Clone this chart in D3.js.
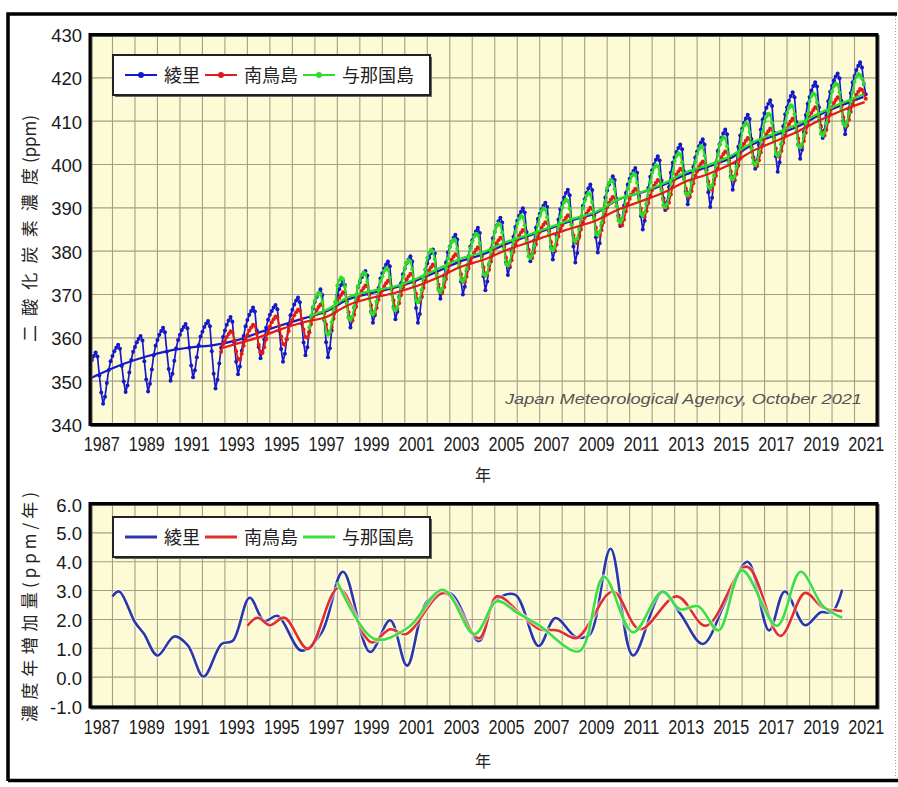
<!DOCTYPE html>
<html>
<head>
<meta charset="utf-8">
<script src="https://cdnjs.cloudflare.com/ajax/libs/d3/7.8.5/d3.min.js"></script>
<style>
  body { margin: 0; background: #fff; }
  svg text { font-family: "Liberation Sans", Arial, sans-serif; }
  svg .jp { font-family: "Noto Sans CJK JP", sans-serif; }
</style>
</head>
<body>
<svg id="chart" width="898" height="787"></svg>
<script>
// ---- data ----
var stationNames = ['綾里', '南鳥島', '与那国島'];

var xTickYears = [1987, 1989, 1991, 1993, 1995, 1997, 1999, 2001, 2003, 2005, 2007, 2009,
                  2011, 2013, 2015, 2017, 2019, 2021];
var yTicksTop = [340, 350, 360, 370, 380, 390, 400, 410, 420, 430];
var yTicksBottom = [-1, 0, 1, 2, 3, 4, 5, 6];

// monthly means: [year, Jan .. Dec]
var ryoriMonthly = [
  [1987, 354.0, 354.9, 355.8, 356.6, 355.7, 351.3, 347.4, 344.8, 346.4, 349.6, 352.6, 354.6],
  [1988, 355.8, 356.9, 357.7, 358.4, 357.5, 353.5, 349.9, 347.5, 349.0, 352.0, 354.9, 356.8],
  [1989, 357.9, 359.0, 359.8, 360.4, 359.4, 354.6, 350.4, 347.6, 349.4, 352.7, 356.0, 358.2],
  [1990, 359.5, 360.7, 361.6, 362.3, 361.3, 356.8, 352.8, 350.1, 351.7, 354.7, 357.6, 359.5],
  [1991, 360.7, 361.8, 362.5, 363.2, 362.2, 357.7, 353.6, 350.9, 352.5, 355.5, 358.3, 360.3],
  [1992, 361.4, 362.5, 363.3, 363.9, 362.7, 356.9, 351.7, 348.3, 350.3, 354.1, 357.7, 360.2],
  [1993, 361.7, 363.0, 364.0, 364.8, 363.7, 358.9, 354.5, 351.6, 353.4, 357.0, 360.4, 362.7],
  [1994, 364.1, 365.3, 366.2, 367.0, 366.1, 361.7, 357.9, 355.3, 356.8, 359.6, 362.3, 364.2],
  [1995, 365.3, 366.2, 367.0, 367.6, 366.6, 361.7, 357.4, 354.5, 356.3, 359.7, 362.9, 365.2],
  [1996, 366.5, 367.7, 368.6, 369.3, 368.2, 363.3, 358.9, 356.0, 357.8, 361.3, 364.7, 366.9],
  [1997, 368.3, 369.5, 370.4, 371.2, 369.9, 364.1, 359.0, 355.5, 357.6, 361.7, 365.5, 368.2],
  [1998, 369.8, 371.2, 372.2, 373.1, 372.2, 368.3, 364.8, 362.4, 364.0, 367.0, 369.8, 371.8],
  [1999, 372.9, 374.0, 374.8, 375.4, 374.4, 370.0, 366.1, 363.5, 365.2, 368.4, 371.5, 373.7],
  [2000, 374.9, 376.0, 376.9, 377.6, 376.5, 371.6, 367.2, 364.3, 366.0, 369.4, 372.6, 374.7],
  [2001, 376.0, 377.2, 378.1, 378.8, 377.6, 371.9, 366.9, 363.5, 365.5, 369.4, 373.1, 375.7],
  [2002, 377.2, 378.5, 379.6, 380.4, 379.5, 375.3, 371.5, 369.0, 370.8, 374.2, 377.4, 379.7],
  [2003, 381.0, 382.2, 383.1, 383.8, 382.7, 377.6, 373.0, 370.0, 371.8, 375.4, 378.8, 381.1],
  [2004, 382.5, 383.7, 384.6, 385.4, 384.2, 378.9, 374.2, 371.0, 373.0, 376.8, 380.5, 383.0],
  [2005, 384.5, 385.9, 386.9, 387.7, 386.6, 381.8, 377.4, 374.5, 376.3, 379.9, 383.3, 385.6],
  [2006, 387.0, 388.2, 389.1, 389.9, 388.9, 384.4, 380.4, 377.7, 379.3, 382.4, 385.4, 387.4],
  [2007, 388.6, 389.7, 390.5, 391.2, 390.2, 385.3, 381.0, 378.1, 380.0, 383.7, 387.3, 389.7],
  [2008, 391.1, 392.4, 393.4, 394.2, 392.9, 386.6, 381.1, 377.4, 379.6, 383.7, 387.7, 390.4],
  [2009, 392.0, 393.4, 394.5, 395.4, 394.1, 388.3, 383.2, 379.7, 381.8, 385.9, 389.7, 392.4],
  [2010, 394.0, 395.4, 396.4, 397.3, 396.4, 392.1, 388.3, 385.8, 387.4, 390.5, 393.4, 395.4],
  [2011, 396.7, 397.7, 398.5, 399.2, 398.1, 392.8, 388.1, 385.0, 387.0, 390.9, 394.6, 397.2],
  [2012, 398.7, 400.0, 401.1, 401.9, 400.9, 396.3, 392.2, 389.5, 391.3, 394.8, 398.1, 400.4],
  [2013, 401.7, 402.9, 403.8, 404.6, 403.5, 398.4, 393.8, 390.8, 392.6, 396.1, 399.4, 401.6],
  [2014, 403.0, 404.2, 405.1, 405.8, 404.6, 398.8, 393.6, 390.2, 392.3, 396.5, 400.4, 403.1],
  [2015, 404.7, 406.1, 407.2, 408.1, 407.0, 401.8, 397.3, 394.2, 396.3, 400.3, 404.1, 406.7],
  [2016, 408.2, 409.6, 410.6, 411.5, 410.5, 405.9, 401.7, 399.0, 400.9, 404.5, 408.0, 410.4],
  [2017, 411.8, 413.1, 414.0, 414.8, 413.5, 407.4, 401.9, 398.3, 400.5, 404.7, 408.8, 411.6],
  [2018, 413.2, 414.7, 415.8, 416.7, 415.5, 409.8, 404.7, 401.3, 403.4, 407.5, 411.4, 414.0],
  [2019, 415.6, 417.1, 418.1, 419.0, 418.0, 413.2, 408.9, 406.1, 407.9, 411.3, 414.6, 416.8],
  [2020, 418.2, 419.4, 420.3, 421.0, 419.9, 414.7, 410.1, 407.0, 409.0, 412.8, 416.5, 419.0],
  [2021, 420.4, 421.8, 422.8, 423.6, 422.4, 418.6, 416.2]
];

var minamitorishimaMonthly = [
  [1992, null, null, null, null, null, null, null, null, null, null, 356.8, 358.5],
  [1993, 359.2, 360.2, 360.9, 361.5, 361.3, 359.4, 356.9, 355.2, 355.0, 356.3, 358.2, 359.9],
  [1994, 360.7, 361.7, 362.4, 363.0, 362.8, 360.9, 358.4, 356.7, 356.5, 357.8, 359.7, 361.4],
  [1995, 362.6, 363.6, 364.3, 364.9, 364.7, 362.8, 360.3, 358.6, 358.4, 359.7, 361.6, 363.3],
  [1996, 364.2, 365.2, 365.9, 366.5, 366.3, 364.4, 361.9, 360.2, 360.0, 361.3, 363.2, 364.9],
  [1997, 365.4, 366.4, 367.1, 367.7, 367.5, 365.6, 363.1, 361.4, 361.2, 362.5, 364.4, 366.1],
  [1998, 368.2, 369.2, 369.9, 370.5, 370.3, 368.4, 365.9, 364.2, 364.0, 365.3, 367.2, 368.9],
  [1999, 369.8, 370.8, 371.5, 372.1, 371.9, 370.0, 367.5, 365.8, 365.6, 366.9, 368.8, 370.5],
  [2000, 370.9, 371.9, 372.6, 373.2, 373.0, 371.1, 368.6, 366.9, 366.7, 368.0, 369.9, 371.6],
  [2001, 372.5, 373.5, 374.2, 374.8, 374.6, 372.7, 370.2, 368.5, 368.3, 369.6, 371.5, 373.2],
  [2002, 374.6, 375.6, 376.3, 376.9, 376.7, 374.8, 372.3, 370.6, 370.4, 371.7, 373.6, 375.3],
  [2003, 377.0, 378.0, 378.7, 379.3, 379.1, 377.2, 374.7, 373.0, 372.8, 374.1, 376.0, 377.7],
  [2004, 378.6, 379.6, 380.3, 380.9, 380.7, 378.8, 376.3, 374.6, 374.4, 375.7, 377.6, 379.3],
  [2005, 380.8, 381.8, 382.5, 383.1, 382.9, 381.0, 378.5, 376.8, 376.6, 377.9, 379.8, 381.5],
  [2006, 382.6, 383.6, 384.3, 384.9, 384.7, 382.8, 380.3, 378.6, 378.4, 379.7, 381.6, 383.3],
  [2007, 384.4, 385.4, 386.1, 386.7, 386.5, 384.6, 382.1, 380.4, 380.2, 381.5, 383.4, 385.1],
  [2008, 386.0, 387.0, 387.7, 388.3, 388.1, 386.2, 383.7, 382.0, 381.8, 383.1, 385.0, 386.7],
  [2009, 387.7, 388.7, 389.4, 390.0, 389.8, 387.9, 385.4, 383.7, 383.5, 384.8, 386.7, 388.4],
  [2010, 390.2, 391.2, 391.9, 392.5, 392.3, 390.4, 387.9, 386.2, 386.0, 387.3, 389.2, 390.9],
  [2011, 392.1, 393.1, 393.8, 394.4, 394.2, 392.3, 389.8, 388.1, 387.9, 389.2, 391.1, 392.8],
  [2012, 394.1, 395.1, 395.8, 396.4, 396.2, 394.3, 391.8, 390.1, 389.9, 391.2, 393.1, 394.8],
  [2013, 396.7, 397.7, 398.4, 399.0, 398.8, 396.9, 394.4, 392.7, 392.5, 393.8, 395.7, 397.4],
  [2014, 398.4, 399.4, 400.1, 400.7, 400.5, 398.6, 396.1, 394.4, 394.2, 395.5, 397.4, 399.1],
  [2015, 400.7, 401.7, 402.4, 403.0, 402.8, 400.9, 398.4, 396.7, 396.5, 397.8, 399.7, 401.4],
  [2016, 403.8, 404.8, 405.5, 406.1, 405.9, 404.0, 401.5, 399.8, 399.6, 400.9, 402.8, 404.5],
  [2017, 406.0, 407.0, 407.7, 408.3, 408.1, 406.2, 403.7, 402.0, 401.8, 403.1, 405.0, 406.7],
  [2018, 408.3, 409.3, 410.0, 410.6, 410.4, 408.5, 406.0, 404.3, 404.1, 405.4, 407.3, 409.0],
  [2019, 410.9, 411.9, 412.6, 413.2, 413.0, 411.1, 408.6, 406.9, 406.7, 408.0, 409.9, 411.6],
  [2020, 413.2, 414.2, 414.9, 415.5, 415.3, 413.4, 410.9, 409.2, 409.0, 410.3, 412.2, 413.9],
  [2021, 415.1, 416.1, 416.8, 417.4, 417.2, 416.3, 415.2]
];

var yonaguniMonthly = [
  [1996, null, null, null, null, null, null, null, null, null, 362.4, 365.1, 367.2],
  [1997, 368.6, 369.8, 370.4, 370.1, 368.3, 364.4, 361.1, 360.7, 361.4, 363.6, 366.3, 368.4],
  [1998, 372.1, 373.3, 373.9, 373.6, 371.8, 367.9, 364.6, 364.2, 364.9, 367.1, 369.8, 371.9],
  [1999, 373.3, 374.5, 375.1, 374.8, 373.0, 369.1, 365.8, 365.4, 366.1, 368.3, 371.0, 373.1],
  [2000, 374.2, 375.4, 376.0, 375.7, 373.9, 370.0, 366.7, 366.3, 367.0, 369.2, 371.9, 374.0],
  [2001, 376.1, 377.3, 377.9, 377.6, 375.8, 371.9, 368.6, 368.2, 368.9, 371.1, 373.8, 375.9],
  [2002, 378.5, 379.7, 380.3, 380.0, 378.2, 374.3, 371.0, 370.6, 371.3, 373.5, 376.2, 378.3],
  [2003, 380.9, 382.1, 382.7, 382.4, 380.6, 376.7, 373.4, 373.0, 373.7, 375.9, 378.6, 380.7],
  [2004, 382.2, 383.4, 384.0, 383.7, 381.9, 378.0, 374.7, 374.3, 375.0, 377.2, 379.9, 382.0],
  [2005, 384.6, 385.8, 386.4, 386.1, 384.3, 380.4, 377.1, 376.7, 377.4, 379.6, 382.3, 384.4],
  [2006, 386.3, 387.5, 388.1, 387.8, 386.0, 382.1, 378.8, 378.4, 379.1, 381.3, 384.0, 386.1],
  [2007, 388.1, 389.3, 389.9, 389.6, 387.8, 383.9, 380.6, 380.2, 380.9, 383.1, 385.8, 387.9],
  [2008, 390.1, 391.3, 391.9, 391.6, 389.8, 385.9, 382.6, 382.2, 382.9, 385.1, 387.8, 389.9],
  [2009, 391.6, 392.8, 393.4, 393.1, 391.3, 387.4, 384.1, 383.7, 384.4, 386.6, 389.3, 391.4],
  [2010, 394.6, 395.8, 396.4, 396.1, 394.3, 390.4, 387.1, 386.7, 387.4, 389.6, 392.3, 394.4],
  [2011, 396.1, 397.3, 397.9, 397.6, 395.8, 391.9, 388.6, 388.2, 388.9, 391.1, 393.8, 395.9],
  [2012, 398.1, 399.3, 399.9, 399.6, 397.8, 393.9, 390.6, 390.2, 390.9, 393.1, 395.8, 397.9],
  [2013, 400.8, 402.0, 402.6, 402.3, 400.5, 396.6, 393.3, 392.9, 393.6, 395.8, 398.5, 400.6],
  [2014, 402.4, 403.6, 404.2, 403.9, 402.1, 398.2, 394.9, 394.5, 395.2, 397.4, 400.1, 402.2],
  [2015, 404.5, 405.7, 406.3, 406.0, 404.2, 400.3, 397.0, 396.6, 397.3, 399.5, 402.2, 404.3],
  [2016, 407.8, 409.0, 409.6, 409.3, 407.5, 403.6, 400.3, 399.9, 400.6, 402.8, 405.5, 407.6],
  [2017, 409.9, 411.1, 411.7, 411.4, 409.6, 405.7, 402.4, 402.0, 402.7, 404.9, 407.6, 409.7],
  [2018, 411.9, 413.1, 413.7, 413.4, 411.6, 407.7, 404.4, 404.0, 404.7, 406.9, 409.6, 411.7],
  [2019, 414.6, 415.8, 416.4, 416.1, 414.3, 410.4, 407.1, 406.7, 407.4, 409.6, 412.3, 414.4],
  [2020, 416.9, 418.1, 418.7, 418.4, 416.6, 412.7, 409.4, 409.0, 409.7, 411.9, 414.6, 416.7],
  [2021, 419.1, 420.3, 420.9, 420.6, 419.8, 418.6]
];

// deseasonalised trend: [decimal year, ppm]
var ryoriTrend = [
  [1987.0, 350.6], [1987.5, 351.8], [1988.5, 354.0], [1989.5, 355.7], [1990.5, 357.0],
  [1991.5, 357.8], [1992.5, 358.3], [1993.5, 359.4], [1994.5, 361.2], [1995.5, 362.9],
  [1996.5, 364.5], [1997.5, 366.1], [1998.5, 368.9], [1999.5, 370.3], [2000.5, 371.5],
  [2001.5, 373.2], [2002.5, 375.4], [2003.5, 377.7], [2004.5, 379.3], [2005.5, 381.6],
  [2006.5, 383.5], [2007.5, 385.3], [2008.5, 387.2], [2009.5, 388.8], [2010.5, 391.9],
  [2011.5, 393.5], [2012.5, 395.3], [2013.5, 397.7], [2014.5, 399.5], [2015.5, 401.5],
  [2016.5, 404.7], [2017.5, 406.8], [2018.5, 408.8], [2019.5, 411.6], [2020.5, 413.8],
  [2021.4, 415.6]
];
var minamitorishimaTrend = [
  [1992.85, 357.6], [1993.5, 358.6], [1994.5, 360.1], [1995.5, 362.0], [1996.5, 363.6],
  [1997.5, 364.8], [1998.5, 367.6], [1999.5, 369.2], [2000.5, 370.3], [2001.5, 371.9],
  [2002.5, 374.0], [2003.5, 376.4], [2004.5, 378.0], [2005.5, 380.2], [2006.5, 382.0],
  [2007.5, 383.8], [2008.5, 385.4], [2009.5, 387.1], [2010.5, 389.6], [2011.5, 391.5],
  [2012.5, 393.5], [2013.5, 396.1], [2014.5, 397.8], [2015.5, 400.1], [2016.5, 403.2],
  [2017.5, 405.4], [2018.5, 407.7], [2019.5, 410.3], [2020.5, 412.6], [2021.45, 414.4]
];
var yonaguniTrend = [
  [1996.75, 365.0], [1997.5, 366.4], [1998.5, 369.4], [1999.5, 370.8], [2000.5, 371.8],
  [2001.5, 373.6], [2002.5, 376.0], [2003.5, 378.3], [2004.5, 379.8], [2005.5, 382.1],
  [2006.5, 383.8], [2007.5, 385.6], [2008.5, 387.5], [2009.5, 389.1], [2010.5, 392.0],
  [2011.5, 393.6], [2012.5, 395.6], [2013.5, 398.2], [2014.5, 399.9], [2015.5, 402.0],
  [2016.5, 405.2], [2017.5, 407.3], [2018.5, 409.4], [2019.5, 412.0], [2020.5, 414.3],
  [2021.4, 416.2]
];

// growth rate (ppm/yr): [decimal year, value]
var ryoriGrowth = [
  [1988.0, 2.80], [1988.3, 2.97], [1989.0, 1.90], [1989.4, 1.50], [1990.0, 0.75],
  [1990.75, 1.41], [1991.35, 1.10], [1992.05, 0.02], [1992.85, 1.15], [1993.35, 1.26],
  [1994.1, 2.75], [1994.75, 1.95], [1995.35, 2.12], [1996.4, 0.92], [1997.3, 1.55],
  [1998.25, 3.65], [1999.45, 0.87], [2000.35, 1.97], [2001.1, 0.40], [2002.0, 2.63],
  [2003.0, 2.92], [2004.3, 1.25], [2005.0, 2.63], [2005.9, 2.86], [2006.95, 1.08],
  [2007.7, 2.05], [2008.6, 1.40], [2009.2, 1.45], [2010.15, 4.45], [2011.15, 0.75],
  [2012.45, 2.95], [2013.25, 2.2], [2014.25, 1.15], [2015.3, 2.69], [2016.25, 4.0],
  [2017.2, 1.62], [2017.9, 2.97], [2018.8, 1.80], [2019.5, 2.25], [2020.0, 2.25],
  [2020.45, 3.03]
];
var minamitorishimaGrowth = [
  [1994.0, 1.78], [1994.45, 2.06], [1995.0, 1.80], [1995.65, 2.06], [1996.7, 0.98],
  [1998.05, 3.09], [1999.5, 1.21], [2000.35, 1.66], [2001.05, 1.49], [2002.75, 2.92],
  [2004.3, 1.35], [2005.1, 2.80], [2006.1, 2.23], [2007.0, 1.66], [2007.8, 1.62],
  [2008.65, 1.36], [2010.25, 2.97], [2011.45, 1.66], [2013.1, 2.80], [2014.4, 1.78],
  [2016.2, 3.83], [2017.7, 1.43], [2018.8, 2.92], [2019.6, 2.41], [2020.45, 2.29]
];
var yonaguniGrowth = [
  [1998.0, 3.30], [1999.65, 1.32], [2001.15, 1.72], [2002.7, 3.03], [2004.1, 1.49],
  [2005.1, 2.63], [2006.0, 2.23], [2007.0, 1.78], [2008.75, 0.90], [2009.85, 3.48],
  [2011.15, 1.55], [2012.45, 2.97], [2013.25, 2.35], [2014.05, 2.46], [2014.95, 1.62],
  [2016.0, 3.70], [2017.55, 1.78], [2018.6, 3.65], [2019.6, 2.46], [2020.45, 2.06]
];

// ---- rendering ----
var co2 = {render: {}};

var config = {
  left: 90, right: 877,
  top: {y0: 34.5, y1: 424.5, labelPad: 12.5, titleY: 481},
  bottom: {y0: 503.5, y1: 707, labelPad: 13, titleY: 767},
  bg: '#fdfbd6',
  grid: '#a39f86'
};

var stations = [
  {name: stationNames[0], color: '#1717cc', color2: '#2b37a8',
   monthly: ryoriMonthly, trend: ryoriTrend, growth: ryoriGrowth},
  {name: stationNames[1], color: '#e21a1a', color2: '#e0302a',
   monthly: minamitorishimaMonthly, trend: minamitorishimaTrend, growth: minamitorishimaGrowth},
  {name: stationNames[2], color: '#2ade2a', color2: '#3ee03e',
   monthly: yonaguniMonthly, trend: yonaguniTrend, growth: yonaguniGrowth}
];

function toPoints(rows){
  var pts = [];
  rows.forEach(function(r){
    r.slice(1).forEach(function(v, i){
      if(v !== null) pts.push([r[0] + i / 12, v]);
    });
  });
  return pts;
}

var svg = d3.select('#chart');
var x = d3.scaleLinear().domain([1987, 2022]).range([config.left, config.right]);
var yTop = d3.scaleLinear().domain([340, 430]).range([424.5, 34.5]);
var yBot = d3.scaleLinear().domain([-1, 6]).range([706, 504]);
var gridYears = d3.range(1988, 2022);

// outer border of the figure
svg.append('path')
  .attr('d', 'M8,781 L8,14 L897,14')
  .attr('fill', 'none').attr('stroke', '#000').attr('stroke-width', 3.5);
svg.append('line')
  .attr('x1', 8).attr('x2', 898).attr('y1', 780.5).attr('y2', 780.5)
  .attr('stroke', '#000').attr('stroke-width', 3.5);
svg.append('line')
  .attr('x1', 895.5).attr('x2', 895.5).attr('y1', 16).attr('y2', 779)
  .attr('stroke', '#aaa').attr('stroke-width', 1).attr('stroke-dasharray', '1,2');

co2.render.panel = function(box, y, yTicks, fmt, id){
  var g = svg.append('g').attr('class', 'panel-' + id);

  g.append('rect')
    .attr('x', config.left).attr('y', box.y0)
    .attr('width', config.right - config.left).attr('height', box.y1 - box.y0)
    .attr('fill', config.bg);

  g.selectAll('line.gx').data(gridYears).enter().append('line').attr('class', 'gx')
    .attr('x1', x).attr('x2', x)
    .attr('y1', box.y0).attr('y2', box.y1)
    .attr('stroke', config.grid).attr('stroke-width', 1.1);

  g.selectAll('line.gy').data(yTicks).enter().append('line').attr('class', 'gy')
    .attr('x1', config.left).attr('x2', config.right)
    .attr('y1', y).attr('y2', y)
    .attr('stroke', config.grid).attr('stroke-width', 1.1);

  svg.append('clipPath').attr('id', 'clip-' + id)
    .append('rect')
    .attr('x', config.left).attr('y', box.y0)
    .attr('width', config.right - config.left).attr('height', box.y1 - box.y0);

  var axisY = g.append('g')
    .attr('transform', 'translate(' + config.left + ',0)')
    .call(d3.axisLeft(y).tickValues(yTicks).tickSize(0).tickPadding(8).tickFormat(fmt));
  axisY.select('.domain').remove();
  axisY.selectAll('text')
    .attr('font-size', 18.5).attr('fill', '#1a1a1a')
    .attr('dy', '0.38em');

  var axisX = g.append('g')
    .attr('transform', 'translate(0,' + box.y1 + ')')
    .call(d3.axisBottom(x)
      .tickValues(xTickYears.map(function(d){ return d + 0.5; }))
      .tickSize(0).tickPadding(box.labelPad)
      .tickFormat(function(d){ return Math.floor(d); }));
  axisX.select('.domain').remove();
  axisX.selectAll('text')
    .attr('font-size', 19.5).attr('fill', '#1a1a1a')
    .attr('textLength', 36).attr('lengthAdjust', 'spacingAndGlyphs');

  g.append('text').attr('class', 'jp')
    .attr('x', 483).attr('y', box.titleY)
    .attr('text-anchor', 'middle').attr('font-size', 16).attr('fill', '#222')
    .text('年');

  var data = svg.append('g').attr('clip-path', 'url(#clip-' + id + ')');
  return {g: g, data: data};
};

co2.render.frame = function(box){
  svg.append('rect')
    .attr('x', config.left + 1.5).attr('y', box.y0 + 1.5)
    .attr('width', config.right - config.left).attr('height', box.y1 - box.y0)
    .attr('fill', 'none').attr('stroke', '#555').attr('stroke-width', 2);
  svg.append('rect')
    .attr('x', config.left).attr('y', box.y0)
    .attr('width', config.right - config.left).attr('height', box.y1 - box.y0)
    .attr('fill', 'none').attr('stroke', '#000').attr('stroke-width', 3);
};

co2.render.legend = function(yc, markers, lineWidth){
  var g = svg.append('g');
  g.append('rect').attr('x', 115).attr('y', yc - 18)
    .attr('width', 317).attr('height', 40).attr('fill', '#666');
  g.append('rect').attr('x', 113).attr('y', yc - 20)
    .attr('width', 317).attr('height', 40)
    .attr('fill', '#fff').attr('stroke', '#222').attr('stroke-width', 2);

  var cursor = 125;
  stations.forEach(function(s){
    var item = g.append('g');
    item.append('line')
      .attr('x1', cursor).attr('x2', cursor + 32).attr('y1', yc).attr('y2', yc)
      .attr('stroke', markers ? s.color : s.color2).attr('stroke-width', lineWidth);
    if(markers){
      item.append('circle').attr('cx', cursor + 16).attr('cy', yc).attr('r', 3)
        .attr('fill', s.color);
    }
    var t = item.append('text').attr('class', 'jp')
      .attr('x', cursor + 39).attr('y', yc + 6.5)
      .attr('font-size', 18).attr('fill', '#222')
      .text(s.name);
    cursor += 39 + t.node().getComputedTextLength() + 5;
  });
};

co2.render.yTitle = function(parts){
  parts.forEach(function(p){
    svg.append('text').attr('class', 'jp')
      .attr('transform', 'translate(36,' + p.start + ') rotate(-90)')
      .attr('font-size', 17).attr('fill', '#222')
      .attr('textLength', p.len).attr('lengthAdjust', 'spacing')
      .text(p.text);
  });
};

// ---- top panel: monthly concentration ----
var topPanel = co2.render.panel(config.top, yTop, yTicksTop, function(d){ return d; }, 'top');

var lineTop = d3.line()
  .x(function(d){ return x(d[0]); })
  .y(function(d){ return yTop(d[1]); });
var lineTrend = d3.line()
  .x(function(d){ return x(d[0]); })
  .y(function(d){ return yTop(d[1]); })
  .curve(d3.curveMonotoneX);

co2.render.monthly = function(s){
  var pts = toPoints(s.monthly);
  var layer = topPanel.data.append('g');
  layer.append('path').datum(pts)
    .attr('d', lineTop)
    .attr('fill', 'none').attr('stroke', s.color).attr('stroke-width', 1.7)
    .attr('stroke-linejoin', 'round');
  layer.selectAll('circle').data(pts).enter().append('circle')
    .attr('cx', function(d){ return x(d[0]); })
    .attr('cy', function(d){ return yTop(d[1]); })
    .attr('r', 2)
    .attr('fill', s.color);
};
co2.render.trend = function(s){
  topPanel.data.append('path').datum(s.trend)
    .attr('d', lineTrend)
    .attr('fill', 'none').attr('stroke', s.color).attr('stroke-width', 2.2);
};

// same stacking as the original: blue under red under green, trends of the
// two island stations kept visible on top
co2.render.monthly(stations[0]);
co2.render.trend(stations[0]);
co2.render.monthly(stations[1]);
co2.render.monthly(stations[2]);
co2.render.trend(stations[1]);
co2.render.trend(stations[2]);

svg.append('text')
  .attr('x', 862).attr('y', 404)
  .attr('text-anchor', 'end')
  .attr('font-size', 15.5).attr('font-style', 'italic').attr('fill', '#555')
  .attr('textLength', 357).attr('lengthAdjust', 'spacingAndGlyphs')
  .text('Japan Meteorological Agency, October 2021');

co2.render.frame(config.top);
co2.render.legend(75, true, 2);
co2.render.yTitle([
  {text: '二酸化炭素濃度', start: 342, len: 174},
  {text: '(ppm)', start: 163, len: 48}
]);

// ---- bottom panel: growth rate ----
var bottomPanel = co2.render.panel(config.bottom, yBot, yTicksBottom,
  function(d){ return d.toFixed(1); }, 'bottom');

var lineGrowth = d3.line()
  .x(function(d){ return x(d[0]); })
  .y(function(d){ return yBot(d[1]); })
  .curve(d3.curveCatmullRom.alpha(0.5));

stations.forEach(function(s){
  bottomPanel.data.append('path').datum(s.growth)
    .attr('d', lineGrowth)
    .attr('fill', 'none').attr('stroke', '#ffffff').attr('stroke-opacity', 0.55)
    .attr('stroke-width', 5);
  bottomPanel.data.append('path').datum(s.growth)
    .attr('d', lineGrowth)
    .attr('fill', 'none').attr('stroke', s.color2).attr('stroke-width', 2.6)
    .attr('stroke-linejoin', 'round');
});

co2.render.frame(config.bottom);
co2.render.legend(537, false, 3);
co2.render.yTitle([
  {text: '濃度年増加量', start: 722, len: 130},
  {text: '(ppm/年)', start: 588, len: 96}
]);
</script>
</body>
</html>
